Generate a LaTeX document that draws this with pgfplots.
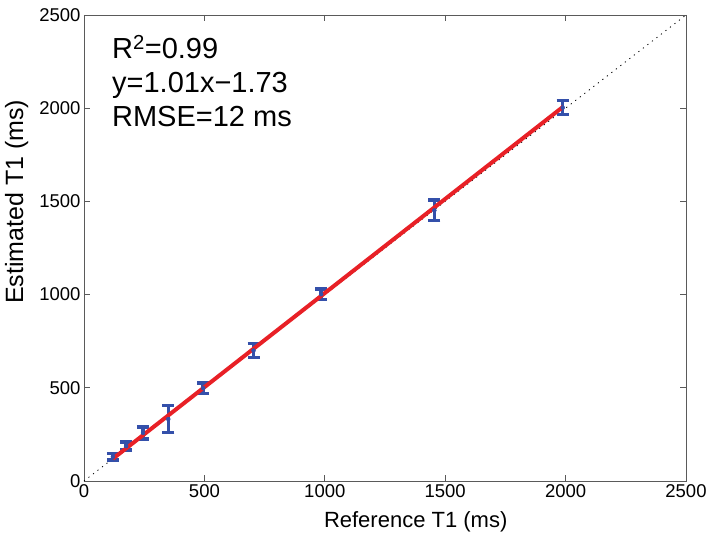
\documentclass[border=0pt]{standalone}
\usepackage{fontspec}
\setmainfont{Liberation Sans}
\usepackage{pgfplots}
\pgfplotsset{compat=1.18}
\definecolor{barblue}{RGB}{52,80,170}
\definecolor{fitred}{RGB}{232,32,38}
\definecolor{axgray}{RGB}{90,90,90}

\begin{document}
\begin{tikzpicture}
\begin{axis}[
    scale only axis,
    width=602bp,
    height=466bp,
    xmin=0, xmax=2500,
    ymin=0, ymax=2500,
    xtick={0,500,...,2500},
    ytick={0,500,...,2500},
    xtick pos=both, ytick pos=both,
    tick align=inside,
    major tick length=6bp,
    axis line style={axgray, line width=0.9bp},
    every tick/.style={axgray, line width=0.9bp},
    /pgf/number format/assume math mode=true,
    /pgf/number format/1000 sep={},
    ticklabel style={font=\fontsize{18.5bp}{20bp}\selectfont},
    xlabel={Reference T1 (ms)},
    ylabel={Estimated T1 (ms)},
    xlabel style={font=\fontsize{22bp}{24bp}\selectfont, at={(axis description cs:0.551,-0.099)}, anchor=base},
    ylabel style={font=\fontsize{25bp}{27bp}\selectfont, at={(axis description cs:-0.101,0.599)}, anchor=base},
    clip=false,
]
% identity line
\addplot[black, line width=0.8bp, dash pattern=on 1.2bp off 4.5bp] coordinates {(0,0) (2500,2500)};

% estimated T1 with error bars
\addplot[barblue, only marks, mark=none,
    error bars/.cd, y dir=both, y explicit,
    error bar style={line width=3.5bp, barblue},
    error mark options={rotate=90, mark size=6bp, line width=3.5bp, barblue}]
  table[x=x, y=y, y error=e] {
x    y    e
120  130  17
175  187  21
245  258  32
350  332  73
495  498  28
704  700  37
985  1002 27
1455 1452 55
1988 2003 38
};

% fitted line
\addplot[fitred, line width=4bp] coordinates {(120,119.5) (1990,2008)};

\node[anchor=north west, align=left, inner sep=0pt,
      font=\fontsize{29bp}{34bp}\selectfont]
  at (axis cs:116,2393) {R\textsuperscript{2}=0.99\\y=1.01x−1.73\\RMSE=12 ms};

% page margins as in the reference
\path ([xshift=-84bp,yshift=-60bp]rel axis cs:0,0) -- ([xshift=28bp,yshift=15bp]rel axis cs:1,1);
\end{axis}
\end{tikzpicture}
\end{document}
